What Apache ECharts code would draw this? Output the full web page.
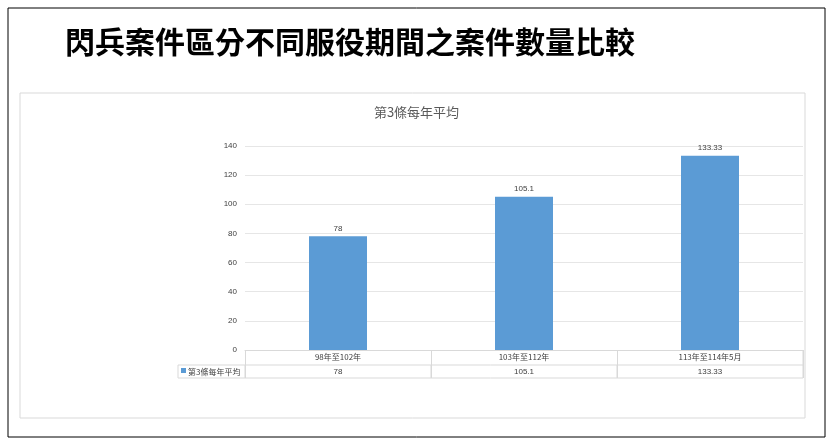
<!DOCTYPE html><html><head><meta charset="utf-8">
<script src="https://cdn.jsdelivr.net/npm/echarts@6/dist/echarts.min.js"></script>
<style>html,body{margin:0;padding:0;background:#fff}#c{width:833px;height:445px}</style></head><body><div id="c"></div>
<script>
const categories=['98年至102年','103年至112年','113年至114年5月'];
const seriesName='第3條每年平均';
const values=[78,105.1,133.33];
const valueLabels=['78','105.1','133.33'];
const chart=echarts.init(document.getElementById('c'));
const F='"Noto Sans CJK TC","Noto Sans CJK SC",sans-serif';
chart.setOption({
 animation:false,
 title:[{text:'閃兵案件區分不同服役期間之案件數量比較',left:60,top:22,textStyle:{fontFamily:F,fontSize:30,fontWeight:'bold',color:'#000'}},
  {text:seriesName,left:'center',top:101,textStyle:{fontFamily:F,fontSize:13,fontWeight:'normal',color:'#595959'}}],
 grid:{left:245,right:30,top:146,bottom:95},
 xAxis:{type:'category',data:categories,axisTick:{show:true,length:28,lineStyle:{color:'#d9d9d9'}},axisLine:{lineStyle:{color:'#d9d9d9'}},
  axisLabel:{fontFamily:F,fontSize:8,color:'#404040',margin:3}},
 yAxis:{type:'value',min:0,max:140,interval:20,axisLine:{show:false},axisTick:{show:false},
  axisLabel:{fontSize:8,color:'#404040',margin:8},splitLine:{lineStyle:{color:'#e6e6e6'}}},
 series:[{type:'bar',name:seriesName,data:values,barWidth:58,itemStyle:{color:'#5b9bd5'},
  label:{show:true,position:'top',fontSize:8,color:'#404040',distance:4}}]
});
const x0=chart.convertToPixel({xAxisIndex:0},categories[0]);
const x1=chart.convertToPixel({xAxisIndex:0},categories[1]);
const w=x1-x0, L=x0-w/2, R=L+w*categories.length;
const g=[
 {type:'rect',shape:{x:8,y:8,width:817,height:429},style:{fill:'none',stroke:'#000',lineWidth:1}},
 {type:'rect',shape:{x:20,y:93,width:785,height:325},style:{fill:'none',stroke:'#d9d9d9',lineWidth:1}},
 {type:'line',shape:{x1:178,y1:365,x2:R,y2:365},style:{stroke:'#d9d9d9'}},
 {type:'line',shape:{x1:178,y1:378,x2:R,y2:378},style:{stroke:'#d9d9d9'}},
 {type:'line',shape:{x1:178,y1:365,x2:178,y2:378},style:{stroke:'#d9d9d9'}},
 {type:'line',shape:{x1:R,y1:350,x2:R,y2:378},style:{stroke:'#d9d9d9'}},
 {type:'rect',shape:{x:181,y:368,width:5,height:5},style:{fill:'#5b9bd5'}},
 {type:'text',x:188,y:371.5,style:{text:seriesName,fontFamily:F,fontSize:8,fill:'#404040',verticalAlign:'middle'}}
];
categories.forEach((c,i)=>{
 const cx=chart.convertToPixel({xAxisIndex:0},c);
 g.push({type:'line',shape:{x1:cx-w/2,y1:365,x2:cx-w/2,y2:378},style:{stroke:'#d9d9d9'}});
 g.push({type:'text',x:cx,y:371.5,style:{text:valueLabels[i],fontSize:8,fill:'#404040',align:'center',verticalAlign:'middle'}});
});
chart.setOption({graphic:g});
</script></body></html>
